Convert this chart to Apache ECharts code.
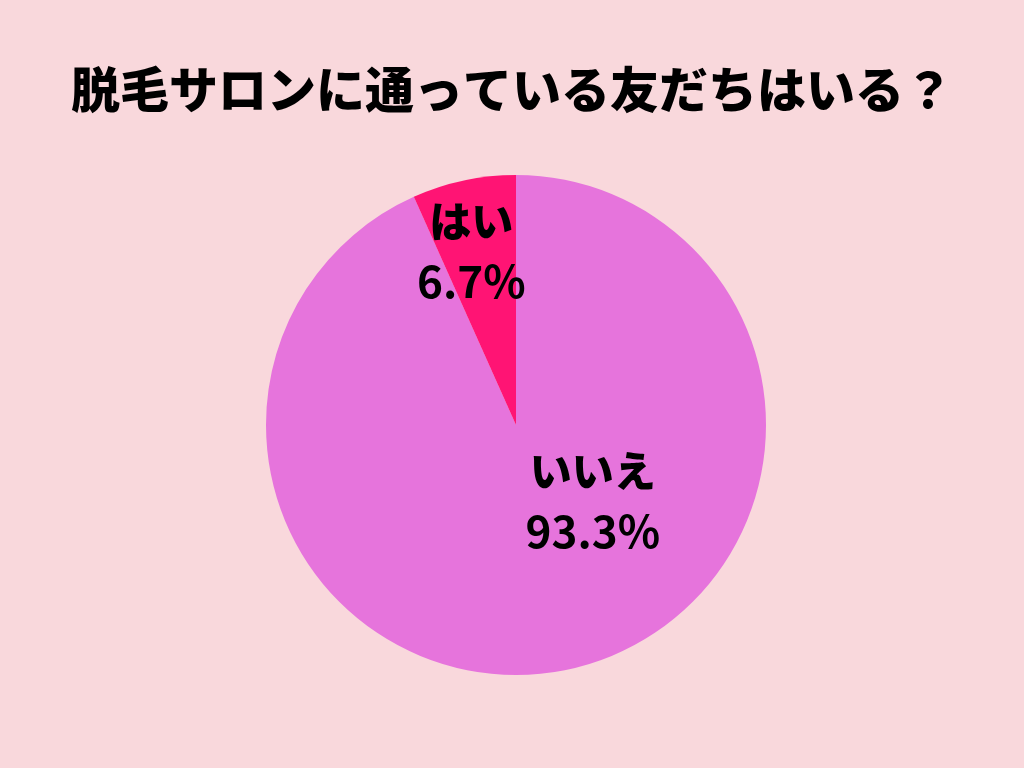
<!DOCTYPE html>
<html><head><meta charset="utf-8">
<script src="https://cdn.jsdelivr.net/npm/echarts@6/dist/echarts.min.js"></script>
<style>html,body{margin:0;padding:0;background:#F9D8DC;}#c{width:1024px;height:768px;}</style>
</head><body><div id="c"></div>
<script>
const titleText = '脱毛サロンに通っている友だちはいる？';
const categories = ['いいえ', 'はい'];
const values = [93.3, 6.7];
const colors = ['#E674DC', '#FF1474'];
const labelOffsets = [[50, -49], [-18, -49]];

const chart = echarts.init(document.getElementById('c'));
chart.setOption({
  backgroundColor: '#F9D8DC',
  title: {
    text: titleText, left: 'center', top: 60,
    textStyle: { fontFamily: 'Noto Sans CJK JP', fontWeight: 900, fontSize: 49, color: '#000' }
  },
  series: [{
    type: 'pie',
    center: [516, 425],
    radius: [0, 250],
    startAngle: 90,
    clockwise: true,
    data: categories.map((n, i) => ({ name: n, value: values[i], itemStyle: { color: colors[i] } })),
    label: {
      show: true, position: 'inside',
      formatter: p => '{n|' + p.name + '}\n{v|' + p.value + '%}',
      rich: {
        n: { fontFamily: 'Noto Sans CJK JP', fontWeight: 900, fontSize: 42, lineHeight: 60, color: '#000' },
        v: { fontFamily: 'Noto Sans CJK JP', fontWeight: 700, fontSize: 44, lineHeight: 60, color: '#000' }
      }
    },
    labelLine: { show: false },
    labelLayout: p => ({ dx: labelOffsets[p.dataIndex][0], dy: labelOffsets[p.dataIndex][1] }),
    emphasis: { disabled: true },
    animation: false
  }]
});
</script></body></html>
